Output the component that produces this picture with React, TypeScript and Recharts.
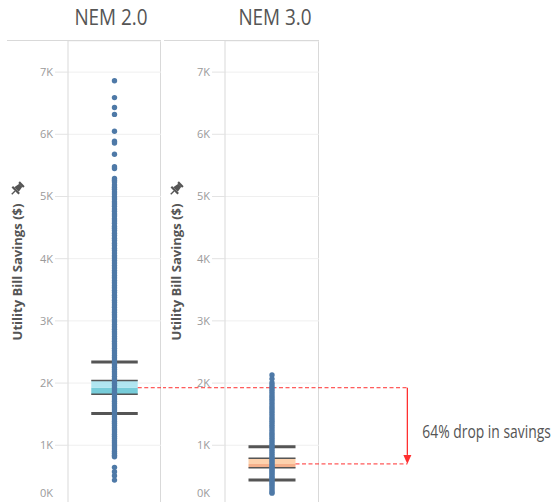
import React from 'react';
import { ComposedChart, Scatter, XAxis, YAxis, CartesianGrid, ReferenceLine, ReferenceArea } from 'recharts';

const panelTitles = ['NEM 2.0', 'NEM 3.0'];
const axisTitle = 'Utility Bill Savings ($)';
const yTicks = [0, 1000, 2000, 3000, 4000, 5000, 6000, 7000];

// per-customer savings
const nem2Savings = [
  6860, 6590, 6430, 6320, 6050, 5890, 5860, 5680, 5480, 5450,
  5290, 5262, 5231, 5186, 5150, 5117, 5071, 5038, 4996, 4961, 4915, 4880, 4842, 4797, 4764,
  4720, 4688, 4641, 4605, 4570, 4523, 4490, 4452, 4408, 4371, 4330, 4292, 4250, 4211, 4168,
  4133, 4090, 4047, 4012, 3970, 3931, 3889, 3852, 3808, 3774, 3730, 3693, 3651, 3612, 3570,
  3534, 3491, 3455, 3411, 3376, 3333, 3297, 3254, 3219, 3176, 3140, 3098, 3063, 3020, 2984,
  2943, 2905, 2866, 2827, 2789, 2750, 2711, 2673, 2634, 2597, 2558, 2520, 2482, 2444, 2406,
  2369, 2331, 2294, 2256, 2219, 2182, 2145, 2108, 2071, 2034, 1998, 1961, 1925, 1889, 1852,
  1816, 1780, 1744, 1708, 1672, 1636, 1601, 1565, 1530, 1494, 1459, 1424, 1388, 1353, 1318,
  1283, 1248, 1213, 1178, 1143, 1109, 1074, 1040, 1006, 972, 938, 905, 871, 838, 815,
  645, 574, 510, 440,
];
const nem3Savings = [
  2130, 2068, 2005, 1968, 1934, 1897, 1861, 1826, 1790, 1753, 1719, 1682, 1648, 1611, 1577,
  1541, 1506, 1470, 1436, 1400, 1366, 1331, 1297, 1262, 1228, 1194, 1160, 1126, 1093, 1059,
  1026, 993, 960, 927, 895, 863, 832, 801, 771, 742, 714, 687, 661, 636, 611, 586, 561, 536,
  510, 484, 457, 430, 402, 373, 343, 312, 280, 248, 230,
];

// [lower whisker, q1, median, q3, upper whisker]
const nem2Box = [1510, 1820, 1925, 2040, 2340];
const nem3Box = [440, 640, 700, 790, 975];
const dropLabel = '64% drop in savings';

const Y_DOMAIN: [number, number] = [-250, 7500];
const CHART_H = 482;
const FONT = '"Open Sans", sans-serif';
const DOT = '#4e79a7';
const FRAME = '#d9d9d9';
const RED = '#ff3030';
const INK = '#555555';

const Dot = (p: any) => <circle cx={p.cx} cy={p.cy} r={2.7} fill={DOT} />;

const Tick = (p: any) => {
  const ty = Math.min(p.y, CHART_H - 30);
  return (
    <text x={p.x} y={ty} dy="0.35em" textAnchor="end" fill="#9a9a9a" fontSize={11} fontFamily={FONT}>
      {`${p.payload.value / 1000}K`}
    </text>
  );
};

const AxisTitle = (p: any) => {
  const vb = p.viewBox;
  const cx = vb.x + p.dx;
  const cy = vb.y + vb.height / 2 - 10;
  const py = cy - 83;
  return (
    <g>
      <text x={cx} y={cy} transform={`rotate(-90 ${cx} ${cy})`} textAnchor="middle" dominantBaseline="central"
        fill={INK} fontSize={11.5} fontWeight={700} fontFamily={FONT} textLength={137} lengthAdjust="spacingAndGlyphs">{axisTitle}</text>
      <g transform={`translate(${cx} ${py}) rotate(45) scale(1.35)`} fill={INK}>
        <rect x={-2.5} y={-5.5} width={5} height={1.6} />
        <polygon points="-1.6,-4 1.6,-4 2.4,0.5 -2.4,0.5" />
        <rect x={-3.6} y={0.5} width={7.2} height={1.6} />
        <line x1={0} y1={2} x2={0} y2={5.5} stroke={INK} strokeWidth={1} />
      </g>
    </g>
  );
};

const ArrowShape = (p: any) => {
  const { x1, y1, x2, y2 } = p;
  const head = 9;
  const tx = x1 + 15;
  const ty = (y1 + y2) / 2 + 5;
  return (
    <g>
      <line x1={x1} y1={y1} x2={x2} y2={y2 - head} stroke={RED} strokeWidth={1.3} />
      <polygon points={`${x2},${y2} ${x2 - 4},${y2 - head} ${x2 + 4},${y2 - head}`} fill={RED} />
      <g transform={`translate(${tx} ${ty}) scale(0.73 1)`}>
        <text x={0} y={0} dominantBaseline="central" fill={INK} fontSize={19} fontFamily={FONT}>{dropLabel}</text>
      </g>
    </g>
  );
};

const boxMarks = (b: number[], light: string, dark: string, id: string) => {
  const [lo, q1, med, q3, hi] = b;
  const cap = (y: number, w: number, k: string) => (
    <ReferenceLine key={id + k} segment={[{ x: 0.25, y }, { x: 0.75, y }]} stroke={INK} strokeWidth={w} ifOverflow="visible" />
  );
  return [
    <ReferenceLine key={id + 'stem'} segment={[{ x: 0.5, y: lo }, { x: 0.5, y: hi }]} stroke={INK} strokeWidth={2.5} strokeOpacity={0.55} />,
    <ReferenceArea key={id + 'low'} x1={0.25} x2={0.75} y1={q1} y2={med} fill={dark} fillOpacity={0.85} stroke="none" />,
    <ReferenceArea key={id + 'up'} x1={0.25} x2={0.75} y1={med} y2={q3} fill={light} fillOpacity={0.85} stroke="none" />,
    cap(q1, 1.5, 'q1'),
    cap(q3, 1.5, 'q3'),
    cap(lo, 3, 'lo'),
    cap(hi, 3, 'hi'),
  ];
};

const yAxisProps = (dx: number, width: number) => ({
  yAxisId: 0,
  dataKey: 'y',
  type: 'number' as const,
  domain: Y_DOMAIN,
  ticks: yTicks,
  interval: 0 as const,
  width,
  axisLine: { stroke: FRAME },
  tickLine: { stroke: '#e3e3e3' },
  tickSize: 13,
  tick: <Tick />,
  label: <AxisTitle dx={dx} />,
});

const toPoints = (vals: number[]) => vals.map((v) => ({ x: 0.5, y: v }));

const titleStyle = (center: number): React.CSSProperties => ({
  position: 'absolute', left: center - 60, width: 120, top: 4, textAlign: 'center',
  fontSize: 21, color: INK, lineHeight: '26px', transform: 'scaleX(0.9)',
});

export default function App() {
  return (
    <div style={{ position: 'fixed', left: 0, top: 0, width: 553, height: 502, overflow: 'hidden', background: '#fff', fontFamily: FONT }}>
      <div style={{ position: 'absolute', left: 7, top: 40, width: 153, height: 470, borderTop: `1px solid ${FRAME}`, borderRight: `1px solid ${FRAME}` }} />
      <div style={{ position: 'absolute', left: 164, top: 40, width: 154, height: 470, borderTop: `1px solid ${FRAME}`, borderRight: `1px solid ${FRAME}` }} />
      <div style={titleStyle(111)}>{panelTitles[0]}</div>
      <div style={titleStyle(275)}>{panelTitles[1]}</div>

      <div style={{ position: 'absolute', left: 5, top: 41 }}>
        <ComposedChart width={156} height={CHART_H} margin={{ top: 0, right: 0, bottom: 0, left: 0 }}>
          <CartesianGrid vertical={false} stroke="#efefef" />
          <XAxis dataKey="x" type="number" domain={[0, 1]} hide />
          <YAxis {...yAxisProps(12, 63)} />
          <Scatter data={toPoints(nem2Savings)} shape={Dot} isAnimationActive={false} />
          {boxMarks(nem2Box, '#a3e2ee', '#5fc3d2', 'n2')}
          <ReferenceLine segment={[{ x: 0.75, y: nem2Box[2] }, { x: 1, y: nem2Box[2] }]} stroke={RED} strokeDasharray="4 2.5" ifOverflow="visible" />
        </ComposedChart>
      </div>

      <div style={{ position: 'absolute', left: 163, top: 41 }}>
        <ComposedChart width={390} height={CHART_H} margin={{ top: 0, right: 234, bottom: 0, left: 0 }}>
          <CartesianGrid vertical={false} stroke="#efefef" />
          <XAxis dataKey="x" type="number" domain={[0, 1]} hide />
          <YAxis {...yAxisProps(13, 62)} />
          <Scatter data={toPoints(nem3Savings)} shape={Dot} isAnimationActive={false} />
          {boxMarks(nem3Box, '#fdcaa0', '#f3a378', 'n3')}
          <ReferenceLine segment={[{ x: -0.67, y: nem2Box[2] }, { x: 1.94, y: nem2Box[2] }]} stroke={RED} strokeDasharray="4 2.5" ifOverflow="visible" />
          <ReferenceLine segment={[{ x: 0.75, y: nem3Box[2] }, { x: 1.94, y: nem3Box[2] }]} stroke={RED} strokeDasharray="4 2.5" ifOverflow="visible" />
          <ReferenceLine segment={[{ x: 1.94, y: nem2Box[2] }, { x: 1.94, y: nem3Box[2] }]} shape={ArrowShape} ifOverflow="visible" />
        </ComposedChart>
      </div>
    </div>
  );
}
